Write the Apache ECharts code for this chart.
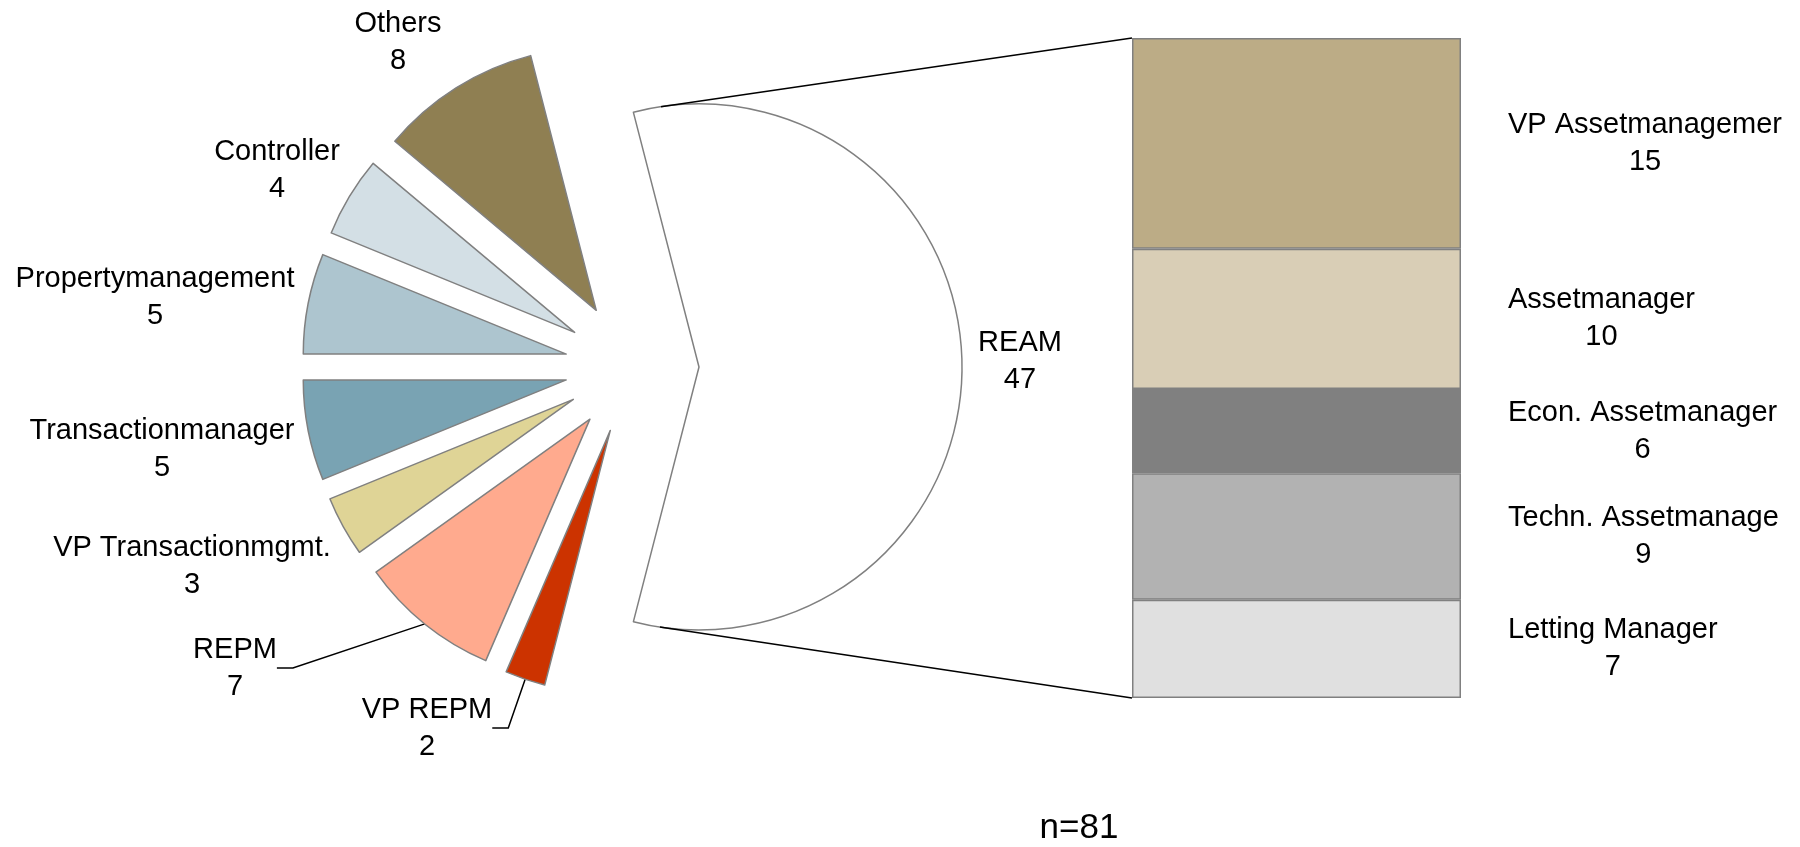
<!DOCTYPE html>
<html>
<head>
<meta charset="utf-8">
<title>Roles of respondents</title>
<script src="https://cdn.jsdelivr.net/npm/echarts@6/dist/echarts.min.js"></script>
<style>
  html, body { margin: 0; padding: 0; background: #ffffff; }
  #chart { width: 1800px; height: 847px; }
</style>
</head>
<body>
<div id="chart"></div>
<script>
// Pie of respondent roles; the REAM slice is broken down in the stacked bar on the right.
const pieNames  = ['REAM', 'Others', 'Controller', 'Propertymanagement', 'Transactionmanager', 'VP Transactionmgmt.', 'REPM', 'VP REPM'];
const pieValues = [47, 8, 4, 5, 5, 3, 7, 2];
const pieColors = ['#FFFFFF', '#8F7F52', '#D3DFE5', '#ADC5CF', '#79A3B3', '#DFD496', '#FFAA8E', '#CC3300'];

const barNames  = ['VP Assetmanagemer', 'Assetmanager', 'Econ. Assetmanager', 'Techn. Assetmanage', 'Letting Manager'];
const barValues = [15, 10, 6, 9, 7];
const barColors = ['#BCAC86', '#D9CEB6', '#808080', '#B2B2B2', '#E0E0E0'];

const sampleNote = 'n=81';

// ---- layout ----
const FONT = "'Liberation Sans', Arial, Helvetica, sans-serif";
const FONT_SIZE = 29;
const LINE_H = 37;
const EDGE = '#808080';
const PIE = { cx: 632, cy: 367, r: 263, offset: 67 };
const GRID = { left: 1132, top: 38, width: 329, height: 660 };

// centre of each slice's label block
const PIE_LABEL_POS = {
  'REAM': [1020, 361],
  'Others': [398, 42],
  'Controller': [277, 170],
  'Propertymanagement': [155, 297],
  'Transactionmanager': [162, 449],
  'VP Transactionmgmt.': [192, 566],
  'REPM': [235, 668],
  'VP REPM': [427, 728]
};
// slices whose label is joined to the slice by a leader line
const LEADER = { 'REPM': true, 'VP REPM': true };

const pieTotal = pieValues.reduce((a, b) => a + b, 0);
const barTotal = barValues.reduce((a, b) => a + b, 0);

// The REAM slice is centred on the 3 o'clock direction; the rest follow counter-clockwise.
const sliceStart = [];
const sliceMid = [];
(function () {
  let acc = -pieValues[0] / pieTotal * 180;
  pieValues.forEach(v => {
    const span = v / pieTotal * 360;
    sliceStart.push(acc);
    sliceMid.push(acc + span / 2);
    acc += span;
  });
})();

const rad = d => d * Math.PI / 180;

// Every slice is pulled out from the common centre along its own mid angle.
function sliceCenter(i) {
  const a = rad(sliceMid[i]);
  return [PIE.cx + PIE.offset * Math.cos(a), PIE.cy - PIE.offset * Math.sin(a)];
}

const pieSeries = pieNames.map((name, i) => {
  const c = sliceCenter(i);
  const leader = !!LEADER[name];
  return {
    type: 'pie',
    id: 'slice-' + i,
    center: c,
    radius: PIE.r,
    startAngle: sliceStart[i],
    clockwise: false,
    avoidLabelOverlap: false,
    silent: true,
    animation: false,
    emphasis: { disabled: true },
    z: 2,
    label: {
      show: true,
      position: 'outside',
      formatter: '{b}\n{c}',
      fontFamily: FONT,
      fontSize: FONT_SIZE,
      lineHeight: LINE_H,
      color: '#000000',
      align: 'center'
    },
    labelLine: { show: leader, lineStyle: { color: '#000000', width: 1.5 } },
    labelLayout: function (p) {
      if (p.dataIndex !== 0) return {};
      const pos = PIE_LABEL_POS[name];
      const out = { x: pos[0], y: pos[1], align: 'center', verticalAlign: 'middle' };
      if (leader) {
        const a = rad(sliceMid[i]);
        const start = [c[0] + PIE.r * Math.cos(a), c[1] - PIE.r * Math.sin(a)];
        const right = pos[0] + p.labelRect.width / 2;
        out.labelLinePoints = [start, [right + 16, pos[1]], [right, pos[1]]];
      }
      return out;
    },
    data: [
      {
        name: name,
        value: pieValues[i],
        itemStyle: { color: pieColors[i], borderColor: EDGE, borderWidth: 1.5 }
      },
      {
        name: '',
        value: pieTotal - pieValues[i],
        itemStyle: { color: 'rgba(0,0,0,0)', borderWidth: 0 },
        label: { show: false },
        labelLine: { show: false }
      }
    ]
  };
});

const barSeries = barNames.map((name, i) => ({
  type: 'bar',
  name: name,
  stack: 'ream',
  barWidth: '100%',
  silent: true,
  animation: false,
  emphasis: { disabled: true },
  itemStyle: { color: barColors[i], borderColor: EDGE, borderWidth: 1.5 },
  label: {
    show: true,
    position: 'right',
    distance: 47,
    formatter: p => '{t|' + p.seriesName + '}\n{t|' + p.value + '}',
    rich: {
      t: { align: 'center', fontFamily: FONT, fontSize: FONT_SIZE, lineHeight: LINE_H, color: '#000000' }
    }
  },
  data: [barValues[i]]
}));

const chart = echarts.init(document.getElementById('chart'), null, { renderer: 'canvas' });

chart.setOption({
  backgroundColor: '#ffffff',
  animation: false,
  textStyle: { fontFamily: FONT },
  grid: { left: GRID.left, top: GRID.top, width: GRID.width, height: GRID.height, containLabel: false },
  xAxis: { type: 'category', data: ['REAM'], show: false },
  yAxis: { type: 'value', min: 0, max: barTotal, inverse: true, show: false },
  series: pieSeries.concat(barSeries),
  graphic: [{
    type: 'text',
    id: 'note',
    x: 1079,
    y: 828,
    style: {
      text: sampleNote,
      fontFamily: FONT,
      fontSize: 35,
      fill: '#000000',
      align: 'center',
      verticalAlign: 'middle'
    }
  }]
});

// Series lines: tangents from the REAM slice's arc to the top and bottom corners of the bar.
(function drawConnectors() {
  const firstBar = chart.getModel().getSeriesByIndex(pieNames.length).getData().getItemLayout(0);
  const xLeft = firstBar ? firstBar.x : GRID.left;
  const yTop = chart.convertToPixel({ yAxisIndex: 0 }, 0);
  const yBottom = chart.convertToPixel({ yAxisIndex: 0 }, barTotal);
  const v = sliceCenter(0);

  function tangent(px, py, upper) {
    const dx = px - v[0], dy = py - v[1];
    const d = Math.sqrt(dx * dx + dy * dy);
    const phi = Math.atan2(dy, dx);
    const t = phi + (upper ? -1 : 1) * Math.acos(PIE.r / d);
    return [v[0] + PIE.r * Math.cos(t), v[1] + PIE.r * Math.sin(t)];
  }

  const tTop = tangent(xLeft, yTop, true);
  const tBot = tangent(xLeft, yBottom, false);
  const lineStyle = { stroke: '#000000', lineWidth: 1.5 };

  chart.setOption({
    graphic: [
      { type: 'line', id: 'conn-top', z: 5, shape: { x1: tTop[0], y1: tTop[1], x2: xLeft, y2: yTop }, style: lineStyle },
      { type: 'line', id: 'conn-bottom', z: 5, shape: { x1: tBot[0], y1: tBot[1], x2: xLeft, y2: yBottom }, style: lineStyle }
    ]
  });
})();
</script>
</body>
</html>
